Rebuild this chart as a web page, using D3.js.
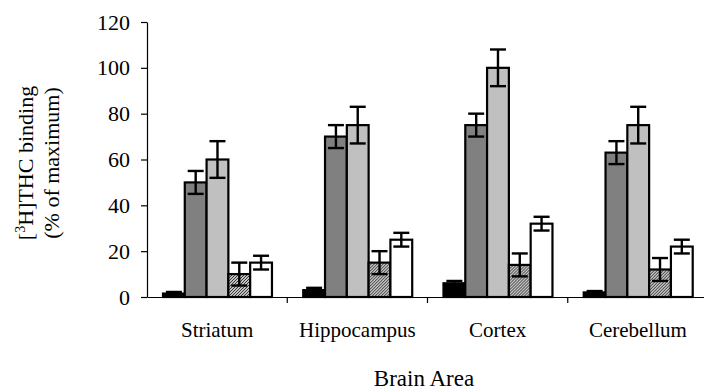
<!DOCTYPE html>
<html>
<head>
<meta charset="utf-8">
<script src="https://cdn.jsdelivr.net/npm/d3@7"></script>
<style>
  body { margin: 0; background: #fff; }
  svg { display: block; }
  svg text { font-family: "Liberation Serif", "Times New Roman", Times, serif; }
</style>
</head>
<body>
<svg id="chart" width="704" height="391"></svg>
<script>
// data
const areas = ["Striatum", "Hippocampus", "Cortex", "Cerebellum"];
const series = ["s1", "s2", "s3", "s4", "s5"];
const values = [
  [1.5, 50, 60, 10, 15],
  [3, 70, 75, 15, 25],
  [6, 75, 100, 14, 32],
  [2, 63, 75, 12, 22]
];
const errors = [
  [0.7, 5, 8, 5, 3],
  [1, 5, 8, 5, 3],
  [1, 5, 8, 5, 3],
  [0.6, 5, 8, 5, 3]
];
const yTicks = [0, 20, 40, 60, 80, 100, 120];

const fills = ["#000000", "#808080", "#c0c0c0", "url(#hatch)", "#ffffff"];

const svg = d3.select("#chart");

// hatch pattern for the 4th series
const defs = svg.append("defs");
const pat = defs.append("pattern")
    .attr("id", "hatch")
    .attr("patternUnits", "userSpaceOnUse")
    .attr("width", 3).attr("height", 3);
pat.append("rect").attr("width", 3).attr("height", 3).attr("fill", "#fff");
pat.append("path")
    .attr("d", "M-1,1 l2,-2 M0,3 l3,-3 M2,4 l2,-2")
    .attr("stroke", "#333").attr("stroke-width", 1.2);

const y = d3.scaleLinear().domain([0, 120]).range([297, 22]);
const x0 = d3.scaleBand().domain(areas).range([147, 708]).padding(0);
const bw = x0.bandwidth();
const x1 = d3.scaleBand().domain(series).range([bw * 0.114, bw * 0.891]);

// y axis
const yAxis = svg.append("g")
    .attr("transform", "translate(147,0)")
    .call(d3.axisLeft(y).tickValues(yTicks).tickSize(6).tickSizeOuter(0).tickPadding(11));
yAxis.attr("font-family", null);
yAxis.select(".domain").attr("stroke", "#000").attr("stroke-width", 1.2);
yAxis.selectAll(".tick line").attr("stroke", "#000").attr("stroke-width", 1.2);
yAxis.selectAll("text")
    .attr("font-size", 22)
    .attr("fill", "#000");

// bars
const groups = svg.append("g").selectAll("g")
    .data(areas)
    .join("g")
    .attr("transform", d => `translate(${x0(d)},0)`);

groups.selectAll("rect")
    .data((d, i) => values[i].map((v, j) => ({ s: series[j], v, e: errors[i][j], j })))
    .join("rect")
    .attr("x", d => x1(d.s))
    .attr("y", d => y(d.v))
    .attr("width", x1.bandwidth())
    .attr("height", d => y(0) - y(d.v))
    .attr("fill", d => fills[d.j])
    .attr("stroke", "#000")
    .attr("stroke-width", 2.2);

// error bars
const cap = 8;
const eb = groups.selectAll("g.err")
    .data((d, i) => values[i].map((v, j) => ({ s: series[j], v, e: errors[i][j] })))
    .join("g")
    .attr("class", "err")
    .attr("stroke", "#000")
    .attr("stroke-width", 2.4);
eb.append("line")
    .attr("x1", d => x1(d.s) + x1.bandwidth() / 2)
    .attr("x2", d => x1(d.s) + x1.bandwidth() / 2)
    .attr("y1", d => y(d.v + d.e))
    .attr("y2", d => y(d.v - d.e));
eb.append("line")
    .attr("x1", d => x1(d.s) + x1.bandwidth() / 2 - cap)
    .attr("x2", d => x1(d.s) + x1.bandwidth() / 2 + cap)
    .attr("y1", d => y(d.v + d.e))
    .attr("y2", d => y(d.v + d.e));
eb.append("line")
    .attr("x1", d => x1(d.s) + x1.bandwidth() / 2 - cap)
    .attr("x2", d => x1(d.s) + x1.bandwidth() / 2 + cap)
    .attr("y1", d => y(d.v - d.e))
    .attr("y2", d => y(d.v - d.e));

// x axis
const xAxis = svg.append("g")
    .attr("transform", `translate(0,${y(0)})`)
    .call(d3.axisBottom(x0).tickSize(0).tickSizeOuter(0).tickPadding(25));
xAxis.attr("font-family", null);
xAxis.select(".domain").attr("stroke", "#000").attr("stroke-width", 1.2);
xAxis.selectAll("text")
    .attr("font-size", 21)
    .attr("fill", "#000");
xAxis.selectAll("line.sep")
    .data(areas.slice(1))
    .join("line")
    .attr("class", "sep")
    .attr("x1", d => x0(d)).attr("x2", d => x0(d))
    .attr("y1", 0).attr("y2", 6)
    .attr("stroke", "#000").attr("stroke-width", 1.2);

// axis titles
svg.append("text")
    .attr("x", 424).attr("y", 386)
    .attr("text-anchor", "middle")
    .attr("font-size", 23)
    .text("Brain Area");

const yt = svg.append("text")
    .attr("transform", "translate(0,163) rotate(-90)")
    .attr("text-anchor", "middle")
    .attr("font-size", 22);
const l1 = yt.append("tspan").attr("x", 0).attr("y", 33);
l1.append("tspan").text("[");
l1.append("tspan").attr("font-size", 14).attr("dy", -8).text("3");
l1.append("tspan").attr("dy", 8).text("H]THC binding");
yt.append("tspan").attr("x", 0).attr("y", 59).text("(% of maximum)");
</script>
</body>
</html>
